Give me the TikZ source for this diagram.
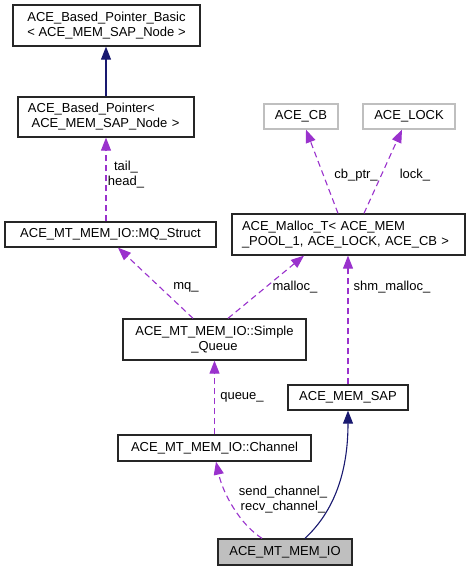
\documentclass[tikz,border=0pt]{standalone}
\usepackage{fontspec}
\setmainfont{Liberation Sans}
\usetikzlibrary{arrows.meta}
\definecolor{depc}{HTML}{9A32CD}
\definecolor{inhc}{HTML}{191970}
\definecolor{gboxc}{HTML}{BFBFBF}
\begin{document}
\begin{tikzpicture}[x=1bp,y=-1bp,
  font=\fontsize{13bp}{15bp}\selectfont,
  box/.style={draw=black!85, line width=1.3bp, inner sep=0pt, align=center},
  lbox/.style={box, inner xsep=10bp, align=left},
  gbox/.style={box, draw=gboxc},
  lbl/.style={inner sep=0pt, align=center},
  depe/.style={draw=depc, line width=1.1bp, dash pattern=on 6bp off 4bp, -{Triangle[length=13bp,width=10bp]}},
  inhe/.style={draw=inhc, line width=1.1bp, -{Triangle[length=13bp,width=10bp]}}]
\fill[white] (0,0) rectangle (469,571);
\useasboundingbox (0,0) rectangle (469,571);
% nodes
\node[box, minimum width=187bp, minimum height=41bp] (basic) at (106.5,25.5) {ACE\_Based\_Pointer\_Basic\\< ACE\_MEM\_SAP\_Node >};
\node[lbox, text width=156bp, minimum height=40bp] (bptr) at (106,117) {ACE\_Based\_Pointer<\\\hspace*{3.6bp}ACE\_MEM\_SAP\_Node >};
\node[box, minimum width=211bp, minimum height=25bp] (mq) at (110.5,234.5) {ACE\_MT\_MEM\_IO::MQ\_Struct};
\node[gbox, minimum width=74bp, minimum height=25bp] (cb) at (301,116.5) {ACE\_CB};
\node[gbox, minimum width=92bp, minimum height=25bp] (lock) at (409,116.5) {ACE\_LOCK};
\node[lbox, text width=213bp, minimum height=41bp] (malloc) at (348.5,234.5) {ACE\_Malloc\_T< ACE\_MEM\\\_POOL\_1, ACE\_LOCK, ACE\_CB >};
\node[box, minimum width=183bp, minimum height=41bp] (sq) at (214.5,339.5) {ACE\_MT\_MEM\_IO::Simple\\\_Queue};
\node[box, minimum width=120bp, minimum height=25bp] (sap) at (348,397.5) {ACE\_MEM\_SAP};
\node[box, minimum width=193bp, minimum height=26bp] (chan) at (214.5,448) {ACE\_MT\_MEM\_IO::Channel};
\node[box, fill=gboxc, minimum width=134bp, minimum height=26bp] (io) at (285,552) {ACE\_MT\_MEM\_IO};
% connectors
\draw[inhe] (bptr.north) -- (bptr.north |- basic.south);
\draw[depe] (bptr.south |- mq.north) -- (bptr.south);
\draw[depe] ([xshift=-10.5bp]malloc.north) -- ([xshift=5bp]cb.south);
\draw[depe] ([xshift=15.5bp]malloc.north) -- ([xshift=-7bp]lock.south);
\draw[depe] ([xshift=-21.5bp]sq.north) -- ([xshift=7.5bp]mq.south);
\draw[depe] ([xshift=13.5bp]sq.north) -- ([xshift=-44.5bp]malloc.south);
\draw[depe] (sap.north) -- (sap.north |- malloc.south);
\draw[depe] (chan.north) -- (sq.south);
\draw[depe] ([xshift=-23bp]io.north) .. controls +(-22,-14) and +(7,32) .. ([xshift=1.5bp]chan.south);
\draw[inhe] ([xshift=20bp]io.north) .. controls +(30,-28) and +(0,60) .. (sap.south);
% labels
\node[lbl] (ltail) at (126,175) {tail\_\\head\_};
\node[lbl] (lcb) at (356,175) {cb\_ptr\_};
\node[lbl] (llock) at (415,175) {lock\_};
\node[lbl] (lmq) at (186,287) {mq\_};
\node[lbl] (lmalloc) at (295,287) {malloc\_};
\node[lbl] (lshm) at (392,287) {shm\_malloc\_};
\node[lbl] (lqueue) at (242,397) {queue\_};
\node[lbl] (lchan) at (283,500) {send\_channel\_\\recv\_channel\_};
\end{tikzpicture}
\end{document}
